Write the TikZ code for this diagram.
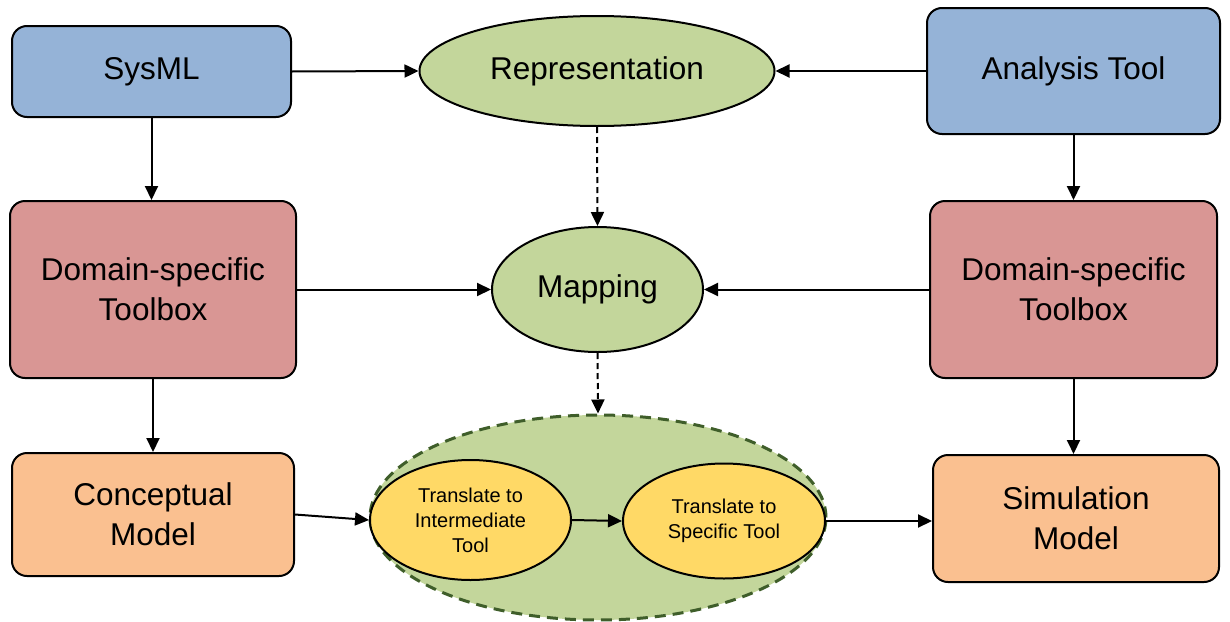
\documentclass[tikz,border=0pt]{standalone}
\usepackage{fontspec}
\setmainfont{Liberation Sans}
\usetikzlibrary{shapes.geometric,arrows.meta}
\definecolor{cblue}{HTML}{95B3D7}
\definecolor{cred}{HTML}{D99694}
\definecolor{cgreen}{HTML}{C3D69B}
\definecolor{corange}{HTML}{FAC090}
\definecolor{cyellow}{HTML}{FFD966}
\definecolor{cdgreen}{HTML}{3F5E2A}
\tikzset{
  box/.style={draw=black, line width=2pt, rounded corners=15pt, inner sep=0pt, align=center, font=\fontsize{31.5}{40}\selectfont},
  oval/.style={ellipse, draw=black, line width=2pt, inner sep=0pt, align=center, fill=cgreen, font=\fontsize{31.5}{40}\selectfont},
  small/.style={ellipse, draw=black, line width=2pt, inner sep=0pt, align=center, fill=cyellow, font=\fontsize{20}{25}\selectfont},
  arr/.style={line width=2pt, -{Triangle[length=14pt,width=13pt]}},
  darr/.style={arr, dashed, dash pattern=on 6pt off 4pt},
}
\begin{document}
\begin{tikzpicture}[x=1pt,y=-1pt]
\useasboundingbox (0,0) rectangle (1230,621);
\node[box, fill=cblue, minimum width=279pt, minimum height=91pt] (sysml) at (151.5,71.5) {SysML};
\node[box, fill=cblue, minimum width=293pt, minimum height=126pt] (analysis) at (1073.5,71) {Analysis Tool};
\node[box, fill=cred, minimum width=286pt, minimum height=177pt] (doml) at (153,289.5) {Domain-specific\\Toolbox};
\node[box, fill=cred, minimum width=287pt, minimum height=177pt] (domr) at (1073.5,289.5) {Domain-specific\\Toolbox};
\node[box, fill=corange, minimum width=282pt, minimum height=123pt] (concept) at (153,514.5) {Conceptual\\Model};
\node[box, fill=corange, minimum width=286pt, minimum height=127pt] (sim) at (1076,518.5) {Simulation\\Model};
\node[oval, minimum width=355pt, minimum height=110pt] (rep) at (597,71) {Representation};
\node[oval, minimum width=211pt, minimum height=125pt] (map) at (597.5,289.5) {Mapping};
\node[ellipse, fill=cgreen, draw=cdgreen, line width=3pt, dash pattern=on 11pt off 7pt, minimum width=456pt, minimum height=205pt] (big) at (598,517.5) {};
\node[small, minimum width=201pt, minimum height=120pt] (inter) at (470.5,520) {Translate to\\Intermediate\\Tool};
\node[small, minimum width=202pt, minimum height=115pt] (spec) at (724,521) {Translate to\\Specific Tool};
\draw[arr] (sysml.east) -- (rep.west);
\draw[arr] (analysis.west) -- (rep.east);
\draw[arr] (sysml.south) -- (doml.north -| sysml.south);
\draw[arr] (analysis.south) -- (domr.north -| analysis.south);
\draw[darr] (rep.south) -- (map.north);
\draw[arr] (doml.east) -- (map.west);
\draw[arr] (domr.west) -- (map.east);
\draw[darr] (map.south) -- (big.north);
\draw[arr] (doml.south) -- (concept.north -| doml.south);
\draw[arr] (domr.south) -- (sim.north -| domr.south);
\draw[arr] (concept.east) -- (inter.west);
\draw[arr] (inter.east) -- (spec.west);
\draw[arr] (spec.east) -- (spec.east -| sim.west);
\end{tikzpicture}
\end{document}
